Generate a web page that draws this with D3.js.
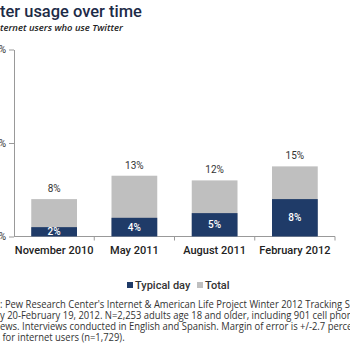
<!DOCTYPE html>
<html>
<head>
<meta charset="utf-8">
<script src="https://cdn.jsdelivr.net/npm/d3@7"></script>
<style>
body { margin: 0; background: #fff; }
svg { display: block; }
</style>
</head>
<body>
<div class="chart"></div>
<script>
var categories = ["November 2010", "May 2011", "August 2011", "February 2012"];
var typicalDay = [2, 4, 5, 8];
var total = [8, 13, 12, 15];
var yTicks = [0, 20, 40];
var seriesNames = ["Typical day", "Total"];
var title = "Twitter usage over time";
var subtitle = "% of internet users who use Twitter";
var sourceLines = [
    "Source: Pew Research Center's Internet & American Life Project Winter 2012 Tracking Survey,",
    "January 20-February 19, 2012. N=2,253 adults age 18 and older, including 901 cell phone",
    "interviews. Interviews conducted in English and Spanish. Margin of error is +/-2.7 percentage",
    "points for internet users (n=1,729)."
];

var width = 350, height = 350;
var navy = "#1f3b68", grey = "#bfbfbf";

var svg = d3.select(".chart")
            .append("svg")
            .attr("width", width)
            .attr("height", height);

var x = d3.scaleBand()
          .domain(categories)
          .range([14, 335])
          .paddingInner(0.43)
          .paddingOuter(0.215);

var y = d3.scaleLinear()
          .domain([0, 40])
          .range([236.5, 49.5]);

// text that starts left of the picture (the reference is cropped on the left)
// style is applied first so the hidden prefix is measured with the right font
function clippedText(g, str, prefix, yPos, style) {
    var t = g.append("text").attr("y", yPos).text(str);
    style(t);
    var w = t.node().getSubStringLength(0, prefix.length);
    t.attr("x", -w);
    return t;
}

// title + subtitle, font size tuned so the visible part has the reference width
function fitSize(str, prefix, nChars, target, style, base) {
    var t = svg.append("text").text(str);
    style(t);
    t.style("font-size", base + "px");
    var w = t.node().getSubStringLength(prefix.length, nChars);
    t.remove();
    return base * target / w;
}

var titleStyle = function(t) {
    t.style("font-family", "Roboto").style("font-weight", 500).style("fill", "#1d2b47");
};
var subStyle = function(t) {
    t.style("font-family", "Open Sans").style("font-style", "italic").style("font-weight", 600).style("fill", "#222");
};
var titleSize = fitSize(title, "Twit", title.length - 4, 142, titleStyle, 16);
var subSize = fitSize(subtitle, "% of in", subtitle.length - 7, 123, subStyle, 10);

var head = svg.append("g");
clippedText(head, title, "Twit", 17, function(t) { titleStyle(t); t.style("font-size", titleSize + "px"); });
clippedText(head, subtitle, "% of in", 31, function(t) { subStyle(t); t.style("font-size", subSize + "px"); });

// y axis
var yAxis = svg.append("g")
    .attr("transform", "translate(14,0)")
    .call(d3.axisLeft(y).tickValues(yTicks).tickSize(5).tickSizeOuter(0).tickPadding(3)
          .tickFormat(function(d) { return d + "%"; }));
yAxis.selectAll("path, line").attr("stroke", "#999");
yAxis.selectAll("text").style("font-family", "Roboto").style("font-size", "10px").style("fill", "#333");

// x axis line with ticks between categories
var xAxis = svg.append("g").attr("transform", "translate(0," + y(0) + ")");
xAxis.append("line").attr("x1", x.range()[0]).attr("x2", x.range()[1]).attr("stroke", "#999");
var bounds = categories.map(function(c) { return x(c) + x.bandwidth() + (x.step() - x.bandwidth()) / 2; });
xAxis.selectAll(".tk").data(bounds).enter().append("line")
    .attr("x1", function(d) { return d; }).attr("x2", function(d) { return d; })
    .attr("y1", 0).attr("y2", 4).attr("stroke", "#999");

xAxis.selectAll(".cat").data(categories).enter().append("text")
    .attr("x", function(d) { return x(d) + x.bandwidth() / 2; })
    .attr("y", 17.5)
    .attr("text-anchor", "middle")
    .style("font-family", "Roboto").style("font-weight", 500)
    .style("font-size", "11px").style("fill", "#222")
    .text(function(d) { return d; });

// bars
var bars = svg.append("g");
bars.selectAll(".total").data(categories).enter().append("rect")
    .attr("x", function(d) { return x(d); })
    .attr("width", x.bandwidth())
    .attr("y", function(d, i) { return y(total[i]); })
    .attr("height", function(d, i) { return y(0) - y(total[i]); })
    .attr("fill", grey);

bars.selectAll(".typical").data(categories).enter().append("rect")
    .attr("x", function(d) { return x(d); })
    .attr("width", x.bandwidth())
    .attr("y", function(d, i) { return y(typicalDay[i]); })
    .attr("height", function(d, i) { return y(0) - y(typicalDay[i]); })
    .attr("fill", navy);

bars.selectAll(".tlab").data(categories).enter().append("text")
    .attr("x", function(d) { return x(d) + x.bandwidth() / 2; })
    .attr("y", function(d, i) { return y(total[i]) - 7; })
    .attr("text-anchor", "middle")
    .style("font-family", "Roboto").style("font-size", "10px").style("fill", "#333")
    .text(function(d, i) { return total[i] + "%"; });

bars.selectAll(".dlab").data(categories).enter().append("text")
    .attr("x", function(d) { return x(d) + x.bandwidth() / 2; })
    .attr("y", function(d, i) { return (y(typicalDay[i]) + y(0)) / 2; })
    .attr("dy", "0.36em")
    .attr("text-anchor", "middle")
    .style("font-family", "Roboto").style("font-weight", 500)
    .style("font-size", "10px").style("fill", "#fff")
    .text(function(d, i) { return typicalDay[i] + "%"; });

// legend
var legend = svg.append("g").attr("transform", "translate(127,285)");
var legendX = [0, 70];
var legendItem = legend.selectAll(".li").data(seriesNames).enter().append("g")
    .attr("transform", function(d, i) { return "translate(" + legendX[i] + ",0)"; });
legendItem.append("rect")
    .attr("x", 0).attr("y", -3).attr("width", 6).attr("height", 6)
    .attr("fill", function(d, i) { return i === 0 ? navy : grey; });
legendItem.append("text")
    .attr("x", 8).attr("y", 4)
    .style("font-family", "Roboto").style("font-weight", 500)
    .style("font-size", "11px").style("fill", "#333")
    .text(function(d) { return d; });

// source note, narrow font imitated with a horizontal squeeze
var noteStyle = function(t) {
    t.style("font-family", "Open Sans").style("font-size", "11px").style("fill", "#333");
};
var probe = svg.append("text").text(sourceLines[0]);
noteStyle(probe);
// visible part of line 1 runs from after "Source" to the "S" of "Survey", about 345px
var visW = probe.node().getSubStringLength(6, sourceLines[0].indexOf("Survey") - 6);
probe.remove();
var squeeze = 345 / visW;

var note = svg.append("g").attr("transform", "scale(" + squeeze + ",1)");
var prefixes = ["Source", "Januar", "intervi", "points"];
var noteY = [308, 319, 330, 341];
sourceLines.forEach(function(line, i) {
    clippedText(note, line, prefixes[i], noteY[i], noteStyle);
});
</script>
</body>
</html>
